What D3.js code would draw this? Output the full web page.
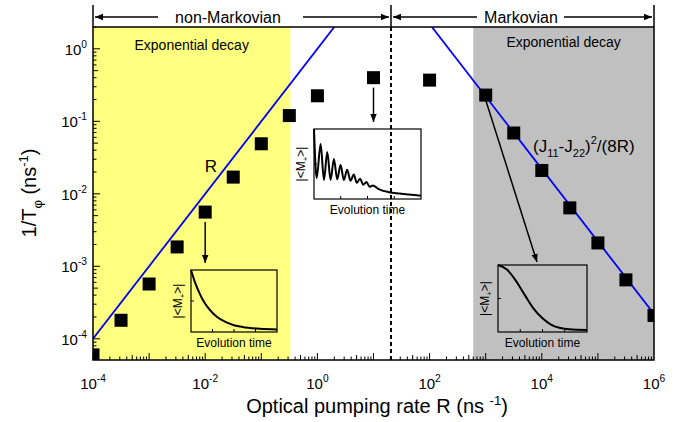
<!DOCTYPE html>
<html>
<head>
<meta charset="utf-8">
<script src="https://cdn.jsdelivr.net/npm/d3@7"></script>
<style>
  body { margin: 0; background: #fff; }
  text { font-family: "Liberation Sans", Arial, sans-serif; fill: #000; }
</style>
</head>
<body>
<div id="chart"></div>
<script>
// measured points (R in ns^-1, 1/T_phi in ns^-1)
let pumpRate = [1e-4, 3.16e-4, 1e-3, 3.16e-3, 1e-2, 3.16e-2, 0.1, 0.316, 1, 10, 100, 1000, 3162, 1e4, 3.16e4, 1e5, 3.16e5, 1e6];
let decayRate = [6.0e-5, 1.8e-4, 5.7e-4, 1.85e-3, 5.6e-3, 0.017, 0.049, 0.12, 0.225, 0.40, 0.37, 0.23, 0.069, 0.021, 0.0064, 0.0021, 6.5e-4, 2.1e-4];

// blue guide lines, end points
let lineR = [[1e-4, 1e-4], [2.0, 2.0]];
let lineJ = [[110, 2.0], [1e6, 2.2e-4]];

// regions
let yellowRange = [1e-4, 0.33];
let grayRange = [600, 1e6];
let boundary = 20.5;

// axis tick labels (exponents)
let xTickExp = [-4, -2, 0, 2, 4, 6];
let yTickExp = [0, -1, -2, -3, -4];

// inset curves (normalised time, normalised |<M+>|)
let expT = [0, 0.05, 0.1, 0.15, 0.2, 0.3, 0.4, 0.5, 0.6, 0.8, 1];
let expV = [1, 0.78, 0.61, 0.47, 0.37, 0.22, 0.135, 0.08, 0.05, 0.02, 0.01];
let oscT = [0, 0.025, 0.062, 0.093, 0.124, 0.155, 0.186, 0.217, 0.248, 0.279, 0.31, 0.341, 0.372, 0.40, 0.43, 0.46, 0.49, 0.52, 0.55, 0.60, 0.70, 0.80, 1.0];
let oscV = [1, 0.28, 0.78, 0.25, 0.66, 0.25, 0.56, 0.26, 0.47, 0.25, 0.40, 0.24, 0.33, 0.21, 0.27, 0.18, 0.22, 0.15, 0.17, 0.12, 0.07, 0.05, 0.02];
let gaussT = [0, 0.1, 0.2, 0.3, 0.4, 0.5, 0.6, 0.7, 0.8, 1];
let gaussV = [1, 0.93, 0.76, 0.54, 0.33, 0.18, 0.08, 0.03, 0.01, 0.0];

let width = 682;
let height = 422;
let margin = {top: 27, right: 28, bottom: 62, left: 93};

let svg = d3.select('#chart')
.append('svg')
.attr('width', width)
.attr('height', height);

let x = d3.scaleLog()
.domain([1e-4, 1e6])
.range([margin.left, width - margin.right]);

let y = d3.scaleLog()
.domain([5.1e-5, 2.0])
.range([height - margin.bottom, margin.top]);

let defs = svg.append('defs');
defs.append('marker')
.attr('id', 'arr')
.attr('viewBox', '0 0 10 10')
.attr('refX', 10).attr('refY', 5)
.attr('markerWidth', 8).attr('markerHeight', 8)
.attr('markerUnits', 'userSpaceOnUse')
.attr('orient', 'auto')
.append('path').attr('d', 'M0,1 L10,5 L0,9 Z').attr('fill', '#000');

defs.append('clipPath').attr('id', 'plotclip')
.append('rect')
.attr('x', margin.left).attr('y', margin.top)
.attr('width', width - margin.left - margin.right)
.attr('height', height - margin.top - margin.bottom);

let plot = svg.append('g').attr('clip-path', 'url(#plotclip)');

// shaded regions
plot.append('rect')
.attr('x', x(yellowRange[0])).attr('y', margin.top)
.attr('width', x(yellowRange[1]) - x(yellowRange[0]))
.attr('height', height - margin.top - margin.bottom)
.attr('fill', '#ffff80');

plot.append('rect')
.attr('x', x(grayRange[0])).attr('y', margin.top)
.attr('width', x(grayRange[1]) - x(grayRange[0]))
.attr('height', height - margin.top - margin.bottom)
.attr('fill', '#c0c0c0');

// ticks (inward, bottom and left only)
let ticks = svg.append('g').attr('stroke', '#000').attr('stroke-width', 1);
for (let d = -4; d < 6; d++) {
    for (let k = 1; k < 10; k++) {
        let v = k * Math.pow(10, d);
        let len = k == 1 ? 7 : (k == 5 ? 5 : 3.5);
        ticks.append('line')
        .attr('x1', x(v)).attr('x2', x(v))
        .attr('y1', y.range()[0]).attr('y2', y.range()[0] - len);
    }
}
for (let d = -5; d <= 0; d++) {
    for (let k = 1; k < 10; k++) {
        let v = k * Math.pow(10, d);
        if (v < y.domain()[0] || v > y.domain()[1]) continue;
        let len = k == 1 ? 7 : (k == 5 ? 5 : 3.5);
        ticks.append('line')
        .attr('x1', margin.left).attr('x2', margin.left + len)
        .attr('y1', y(v)).attr('y2', y(v));
    }
}

// boundary dashed line
svg.append('line')
.attr('x1', x(boundary)).attr('x2', x(boundary))
.attr('y1', margin.top).attr('y2', height - margin.bottom)
.attr('stroke', '#000').attr('stroke-width', 2)
.attr('stroke-dasharray', '4,3');

// guide lines
let line = d3.line()
.x(function(d){ return x(d[0]); })
.y(function(d){ return y(d[1]); });

plot.selectAll('.guide')
.data([lineR, lineJ])
.enter()
.append('path')
.attr('class', 'guide')
.attr('d', line)
.attr('fill', 'none')
.attr('stroke', '#0000ff')
.attr('stroke-width', 1.8);

// data squares
let sq = 13;
plot.selectAll('.pt')
.data(pumpRate)
.enter()
.append('rect')
.attr('class', 'pt')
.attr('x', function(d){ return x(d) - sq / 2; })
.attr('y', function(d, i){ return y(decayRate[i]) - sq / 2; })
.attr('width', sq).attr('height', sq)
.attr('fill', '#000');

// frame
svg.append('rect')
.attr('x', margin.left).attr('y', margin.top)
.attr('width', width - margin.left - margin.right)
.attr('height', height - margin.top - margin.bottom)
.attr('fill', 'none')
.attr('stroke', '#000').attr('stroke-width', 1.5);

// tick labels
function powLabel(sel, e, size) {
    sel.append('tspan').text('10');
    sel.append('tspan').attr('dy', -7).attr('font-size', size * 0.68).text(e);
}

xTickExp.forEach(function(e){
    let t = svg.append('text')
    .attr('x', x(Math.pow(10, e)))
    .attr('y', 389)
    .attr('font-size', 15)
    .attr('text-anchor', 'middle');
    powLabel(t, e, 15);
});

yTickExp.forEach(function(e){
    let t = svg.append('text')
    .attr('x', 87)
    .attr('y', y(Math.pow(10, e)) + 6)
    .attr('font-size', 15)
    .attr('text-anchor', 'end');
    powLabel(t, e, 15);
});

// axis titles
let xt = svg.append('text')
.attr('x', 377).attr('y', 413)
.attr('font-size', 20)
.attr('text-anchor', 'middle');
xt.append('tspan').text('Optical pumping rate R (ns ');
xt.append('tspan').attr('dy', -8).attr('font-size', 13).text('-1');
xt.append('tspan').attr('dy', 8).text(')');

let yt = svg.append('text')
.attr('transform', 'translate(36,' + 193 + ') rotate(-90)')
.attr('font-size', 20)
.attr('text-anchor', 'middle');
yt.append('tspan').text('1/T');
yt.append('tspan').attr('dy', 6).attr('font-size', 13).text('\u03c6');
yt.append('tspan').attr('dy', -6).text(' (ns');
yt.append('tspan').attr('dy', -8).attr('font-size', 13).text('-1');
yt.append('tspan').attr('dy', 8).text(')');

// region labels
svg.append('text')
.attr('x', (x(yellowRange[0]) + x(yellowRange[1])) / 2).attr('y', 50)
.attr('font-size', 14).attr('text-anchor', 'middle')
.text('Exponential decay');
svg.append('text')
.attr('x', (x(grayRange[0]) + x(grayRange[1])) / 2).attr('y', 47)
.attr('font-size', 14).attr('text-anchor', 'middle')
.text('Exponential decay');

// line labels
svg.append('text').attr('x', 211).attr('y', 172).attr('font-size', 17)
.attr('text-anchor', 'middle').text('R');
let jt = svg.append('text').attr('x', 533).attr('y', 152).attr('font-size', 17);
jt.append('tspan').text('(J');
jt.append('tspan').attr('dy', 5).attr('font-size', 11).text('11');
jt.append('tspan').attr('dy', -5).text('-J');
jt.append('tspan').attr('dy', 5).attr('font-size', 11).text('22');
jt.append('tspan').attr('dy', -5).text(')');
jt.append('tspan').attr('dy', -8).attr('font-size', 11).text('2');
jt.append('tspan').attr('dy', 8).text('/(8R)');

// top annotation
let topG = svg.append('g').attr('stroke', '#000').attr('stroke-width', 1.5);
[1e-4, boundary, 1e6].forEach(function(v){
    topG.append('line')
    .attr('x1', x(v)).attr('x2', x(v))
    .attr('y1', 5).attr('y2', margin.top);
});
let ay = 17;
let arrows = [
    [x(1e-4) + 65, x(1e-4) + 2],
    [x(boundary) - 88, x(boundary) - 2],
    [x(boundary) + 86, x(boundary) + 2],
    [x(1e6) - 90, x(1e6) - 2]
];
arrows.forEach(function(a){
    topG.append('line')
    .attr('x1', a[0]).attr('x2', a[1])
    .attr('y1', ay).attr('y2', ay)
    .attr('marker-end', 'url(#arr)');
});
svg.append('text').attr('x', 228).attr('y', ay + 6).attr('font-size', 16)
.attr('text-anchor', 'middle').text('non-Markovian');
svg.append('text').attr('x', 521).attr('y', ay + 6).attr('font-size', 16)
.attr('text-anchor', 'middle').text('Markovian');

// insets
function inset(box, ts, vs, curve) {
    let g = svg.append('g');
    let ix = d3.scaleLinear().domain([0, 1]).range([box.x0, box.x1]);
    let iy = d3.scaleLinear().domain([0, 1]).range([box.y1 - 2, box.y0]);
    g.append('rect')
    .attr('x', box.x0).attr('y', box.y0)
    .attr('width', box.x1 - box.x0).attr('height', box.y1 - box.y0)
    .attr('fill', 'none').attr('stroke', '#000').attr('stroke-width', 1.2);
    [0.25, 0.5, 0.75].forEach(function(f){
        g.append('line')
        .attr('x1', ix(f)).attr('x2', ix(f))
        .attr('y1', box.y1).attr('y2', box.y1 - 3)
        .attr('stroke', '#000');
    });
    g.append('line')
    .attr('x1', box.x0).attr('x2', box.x0 + 3)
    .attr('y1', (box.y0 + box.y1) / 2).attr('y2', (box.y0 + box.y1) / 2)
    .attr('stroke', '#000');
    let l = d3.line()
    .x(function(d, i){ return ix(ts[i]); })
    .y(function(d){ return iy(d); })
    .curve(curve);
    g.append('path')
    .attr('d', l(vs))
    .attr('fill', 'none').attr('stroke', '#000').attr('stroke-width', 2);
    g.append('text')
    .attr('x', (box.x0 + box.x1) / 2).attr('y', box.y1 + 15)
    .attr('font-size', 12).attr('text-anchor', 'middle')
    .text('Evolution time');
    let lt = g.append('text')
    .attr('transform', 'translate(' + (box.x0 - 9) + ',' + ((box.y0 + box.y1) / 2) + ') rotate(-90)')
    .attr('font-size', 12).attr('text-anchor', 'middle');
    lt.append('tspan').text('|<M');
    lt.append('tspan').attr('dy', 3).attr('font-size', 8).text('+');
    lt.append('tspan').attr('dy', -3).text('>|');
}

inset({x0: 191, x1: 277, y0: 270, y1: 332}, expT, expV, d3.curveMonotoneX);
inset({x0: 314, x1: 421, y0: 129, y1: 199}, oscT, oscV, d3.curveMonotoneX);
inset({x0: 498, x1: 587, y0: 265, y1: 332}, gaussT, gaussV, d3.curveMonotoneX);

// pointer arrows from data points to insets
let pointers = [
    [[x(1e-2), y(5.6e-3) + 10], [x(1e-2), 263]],
    [[x(10), y(0.40) + 10], [x(10), 122]],
    [[x(1000), y(0.23) + 5], [537, 262]]
];
pointers.forEach(function(p){
    svg.append('line')
    .attr('x1', p[0][0]).attr('y1', p[0][1])
    .attr('x2', p[1][0]).attr('y2', p[1][1])
    .attr('stroke', '#000').attr('stroke-width', 1.5)
    .attr('marker-end', 'url(#arr)');
});
</script>
</body>
</html>
